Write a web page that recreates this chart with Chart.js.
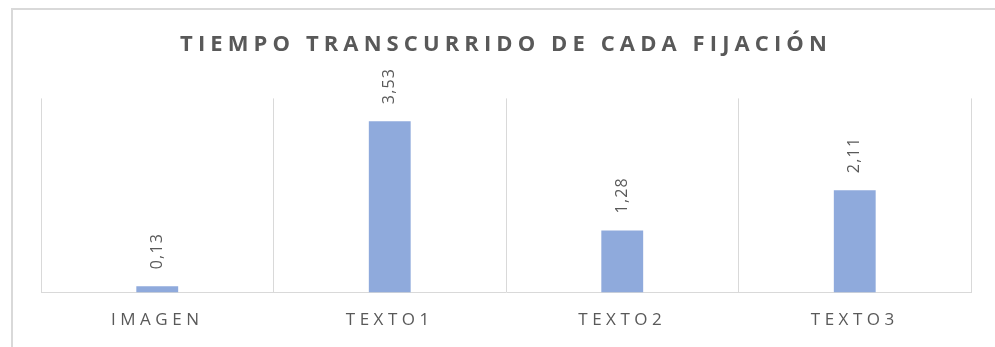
<!DOCTYPE html>
<html lang="es">
<head>
<meta charset="utf-8">
<script src="https://cdn.jsdelivr.net/npm/chart.js@4/dist/chart.umd.min.js"></script>
<style>
    html, body { margin: 0; padding: 0; background: #ffffff; }
    #wrap { position: relative; width: 995px; height: 347px; }
</style>
</head>
<body>
<div id="wrap"><canvas id="fijacionesChart" width="995" height="347"></canvas></div>
<script>
// Datos del gráfico
const categorias = ['IMAGEN', 'TEXTO1', 'TEXTO2', 'TEXTO3'];
const tiempos = [0.13, 3.53, 1.28, 2.11];
const tituloGrafico = 'TIEMPO TRANSCURRIDO DE CADA FIJACIÓN';

const GRIS_TEXTO = '#595959';
const GRIS_LINEA = '#d9d9d9';
const AZUL_BARRA = '#8faadc';

// Espaciado de letras para ejes, título y etiquetas de valor
const espaciado = {
    id: 'espaciado',
    afterLayout(chart) {
        const titulo = chart.titleBlock;
        if (titulo && !titulo._conEspaciado) {
            const dibujar = titulo.draw;
            titulo.draw = function () {
                const c = this.ctx;
                c.save();
                c.letterSpacing = '5.1px';
                dibujar.call(this);
                c.restore();
            };
            titulo._conEspaciado = true;
        }
    },
    beforeDraw(chart) {
        const ctx = chart.ctx;
        // marco exterior del gráfico
        ctx.save();
        ctx.strokeStyle = GRIS_LINEA;
        ctx.lineWidth = 2;
        ctx.strokeRect(12, 9, 1100, 600);
        ctx.restore();
        ctx.letterSpacing = '4.5px';
    },
    afterDatasetsDraw(chart) {
        const ctx = chart.ctx;
        const meta = chart.getDatasetMeta(0);
        ctx.save();
        ctx.letterSpacing = '1.2px';
        ctx.fillStyle = GRIS_TEXTO;
        ctx.font = '16px "Open Sans"';
        ctx.textAlign = 'left';
        ctx.textBaseline = 'middle';
        meta.data.forEach((bar, i) => {
            const texto = tiempos[i].toFixed(2).replace('.', ',');
            ctx.save();
            ctx.translate(bar.x, bar.y - 17);
            ctx.rotate(-Math.PI / 2);
            ctx.fillText(texto, 0, 0);
            ctx.restore();
        });
        ctx.restore();
    },
    afterDraw(chart) {
        chart.ctx.letterSpacing = '0px';
    }
};

const ctx = document.getElementById('fijacionesChart').getContext('2d');

new Chart(ctx, {
    type: 'bar',
    data: {
        labels: categorias,
        datasets: [
            {
                label: 'Tiempo',
                data: tiempos,
                backgroundColor: AZUL_BARRA,
                borderWidth: 0,
                categoryPercentage: 1,
                barPercentage: 0.18
            }
        ]
    },
    options: {
        responsive: false,
        animation: false,
        devicePixelRatio: 1,
        layout: {
            padding: { left: 41, right: 24, top: 0, bottom: 0 }
        },
        plugins: {
            legend: { display: false },
            tooltip: { enabled: false },
            title: {
                display: true,
                text: tituloGrafico,
                color: GRIS_TEXTO,
                position: 'top',
                align: 'center',
                fullSize: true,
                font: { family: '"Open Sans"', size: 22, weight: 'bold', lineHeight: 1.2 },
                padding: { top: 32, bottom: 40 }
            }
        },
        scales: {
            x: {
                offset: true,
                grid: {
                    display: true,
                    offset: true,
                    color: GRIS_LINEA,
                    lineWidth: 1,
                    drawTicks: false
                },
                border: { display: true, color: GRIS_LINEA, width: 1 },
                ticks: {
                    color: GRIS_TEXTO,
                    font: { family: '"Open Sans"', size: 17, lineHeight: 1.2 },
                    padding: 17,
                    maxRotation: 0
                }
            },
            y: {
                display: false,
                min: 0,
                max: 4
            }
        }
    },
    plugins: [espaciado]
});
</script>
</body>
</html>
